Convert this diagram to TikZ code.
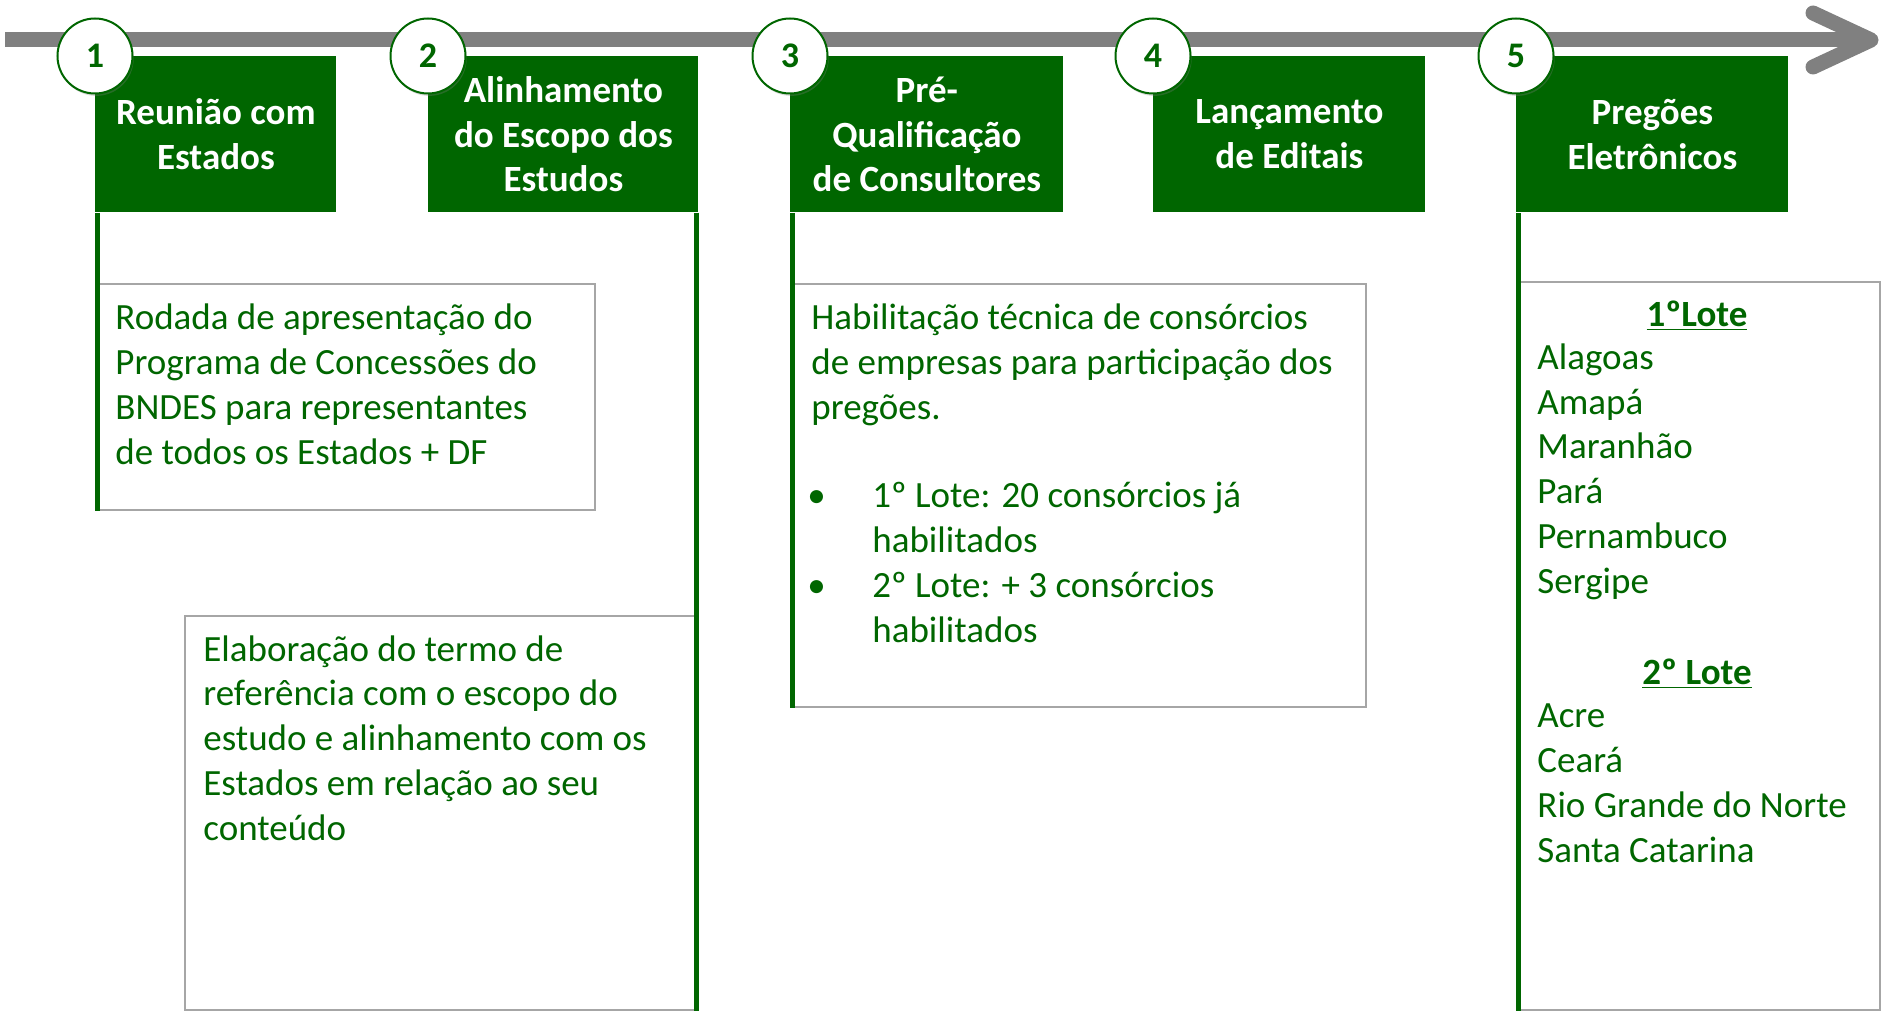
\documentclass[tikz,border=0pt]{standalone}
\usepackage{fontspec}
\setmainfont{Carlito}
\usetikzlibrary{positioning,shadows,calc}

\definecolor{verde}{RGB}{0,102,0}
\definecolor{cinzabarra}{RGB}{128,128,128}
\definecolor{cinzaquadro}{RGB}{166,166,166}
\newcommand{\corpo}{\fontsize{18.5}{22.35}\selectfont}

\begin{document}
\begin{tikzpicture}[
    x=0.5pt, y=-0.5pt,
    etapa/.style={rectangle, fill=verde, text=white, font=\corpo\bfseries, align=center, anchor=north west, minimum height=78pt, inner sep=0pt},
    marco/.style={circle, draw=verde, fill=white, line width=1pt, minimum size=37.5pt, inner sep=0pt, text=verde, font=\fontsize{18}{20}\selectfont\bfseries, drop shadow={shadow xshift=0.6pt, shadow yshift=-1.2pt, opacity=0.3}},
    quadro/.style={rectangle, draw=cinzaquadro, line width=0.8pt, anchor=north west, inner sep=0pt},
    texto/.style={anchor=base west, align=left, text=verde, font=\corpo, inner sep=0pt},
    haste/.style={draw=verde, line width=2.5pt},
    seta/.style={draw=cinzabarra, line width=7.5pt}
]
\useasboundingbox (0,0) rectangle (1883,1016);

% Timeline
\coordinate (inicio) at (5,40);
\coordinate (ponta) at (1871,40);
\coordinate (bracocima) at (1813,13);
\coordinate (bracobaixo) at (1813,67);
\draw[seta] (inicio) -- (1866,40);
\draw[seta, line cap=round, line join=round] (bracocima) -- (ponta) -- (bracobaixo);

% Nodes
\node[etapa, minimum width=120.5pt] (reuniao) at (95,56) {Reunião com\\Estados};
\node[etapa, minimum width=135pt] (alinhamento) at (428,56) {Alinhamento\\do Escopo dos\\Estudos};
\node[etapa, minimum width=136.5pt] (prequal) at (790,56) {Pré-\\Qualificação\\de Consultores};
\node[etapa, minimum width=136pt] (lancamento) at (1153,56) {Lançamento\\de Editais};
\node[etapa, minimum width=136pt] (pregoes) at (1516,56) {Pregões\\Eletrônicos};

\foreach \etapa/\num in {reuniao/1, alinhamento/2, prequal/3, lancamento/4, pregoes/5}
  \node[marco] (marco\num) at (\etapa.north west) {\num};

% Boxes
\node[quadro, minimum width=249pt, minimum height=113pt] (rodada) at (96,283) {};
\node[quadro, minimum width=256.5pt, minimum height=197pt] (elaboracao) at (184,615) {};
\node[quadro, minimum width=287pt, minimum height=211.5pt] (habilitacao) at (791,283) {};
\node[quadro, minimum width=181pt, minimum height=364pt] (lotes) at (1517,281) {};

% Lines
\draw[haste] ([xshift=1.25pt]reuniao.south west) -- ($(reuniao.south west |- rodada.south)+(1.25pt,0)$);
\draw[haste] ([xshift=-1.25pt]alinhamento.south east) -- ($(alinhamento.south east |- elaboracao.south)+(-1.25pt,0)$);
\draw[haste] ([xshift=1.25pt]prequal.south west) -- ($(prequal.south west |- habilitacao.south)+(1.25pt,0)$);
\draw[haste] ([xshift=1.25pt]pregoes.south west) -- ($(pregoes.south west |- lotes.south)+(1.25pt,0)$);

% Texts (placed at the baseline of their last line)
\node[texto] (rodadatxt) at (115,464) {Rodada de apresentação do\\Programa de Concessões do\\BNDES para representantes\\de todos os Estados + DF};
\node[texto] (elaboracaotxt) at (203,840) {Elaboração do termo de\\referência com o escopo do\\estudo e alinhamento com os\\Estados em relação ao seu\\conteúdo};
\node[texto] (habtxt) at (811,419) {Habilitação técnica de consórcios\\de empresas para participação dos\\pregões.};
\node[texto] (item1) at (807,552) {\makebox[32.5pt][l]{\textbullet}1º Lote: 20 consórcios já\\\hspace*{32.5pt}habilitados};
\node[texto] (item2) at (807,642) {\makebox[32.5pt][l]{\textbullet}2º Lote: + 3 consórcios\\\hspace*{32.5pt}habilitados};
\node[texto, anchor=base, font=\corpo\bfseries] (lote1) at (1697,326) {\underline{1ºLote}};
\node[texto] (lista1) at (1537,593) {Alagoas\\Amapá\\Maranhão\\Pará\\Pernambuco\\Sergipe};
\node[texto, anchor=base, font=\corpo\bfseries] (lote2) at (1697,684) {\underline{2º Lote}};
\node[texto] (lista2) at (1537,862) {Acre\\Ceará\\Rio Grande do Norte\\Santa Catarina};

\end{tikzpicture}
\end{document}
